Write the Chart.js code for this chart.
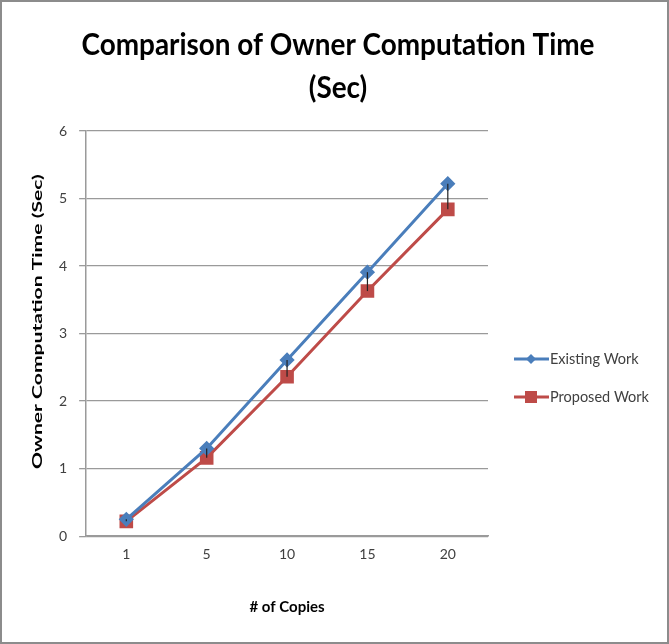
<!DOCTYPE html>
<html><head><meta charset="utf-8">
<script src="https://cdn.jsdelivr.net/npm/chart.js@4.4.0/dist/chart.umd.min.js"></script>
<style>
html,body{margin:0;padding:0;background:#fff}
#wrap{width:669px;height:644px;box-sizing:border-box;border:2px solid #8c8c8c;position:relative;background:#fff}
</style></head><body>
<div id="wrap"><canvas id="c"></canvas></div>
<script>
const categories = ['1', '5', '10', '15', '20'];
const existingWork = [0.25, 1.30, 2.61, 3.91, 5.22];
const proposedWork = [0.22, 1.16, 2.36, 3.63, 4.84];
const seriesNames = ['Existing Work', 'Proposed Work'];
const titleLines = ['Comparison of Owner Computation Time', '(Sec)'];
const yTitle = 'Owner Computation Time (Sec)';
const xTitle = '# of Copies';

const FONT = "Lato, 'Open Sans', sans-serif";

const hiLoLines = {
  id: 'hiLoLines',
  afterDatasetsDraw(chart) {
    const ctx = chart.ctx;
    const a = chart.getDatasetMeta(0).data, b = chart.getDatasetMeta(1).data;
    ctx.save();
    ctx.strokeStyle = '#222';
    ctx.lineWidth = 1.2;
    for (let i = 0; i < a.length; i++) {
      ctx.beginPath();
      ctx.moveTo(a[i].x, a[i].y);
      ctx.lineTo(b[i].x, b[i].y);
      ctx.stroke();
    }
    ctx.restore();
  }
};

// Title and y-axis title drawn stretched, like the (vertically stretched) reference image
const stretchedTexts = {
  id: 'stretchedTexts',
  afterDraw(chart) {
    const ctx = chart.ctx;
    ctx.save();
    ctx.fillStyle = '#000';
    ctx.textAlign = 'center';
    ctx.textBaseline = 'middle';
    ctx.font = 'bold 31px ' + FONT;
    const w = ctx.measureText(titleLines[0]).width;
    const sx = 513 / w;
    const ys = [43, 86];
    titleLines.forEach((t, i) => {
      ctx.save();
      ctx.translate(336, ys[i]);
      ctx.scale(sx, 1);
      ctx.fillText(t, 0, 0);
      ctx.restore();
    });
    // y-axis title
    ctx.font = 'bold 14px ' + FONT;
    const wy = ctx.measureText(yTitle).width;
    ctx.translate(35, (chart.chartArea.top + chart.chartArea.bottom) / 2 - 12);
    ctx.rotate(-Math.PI / 2);
    ctx.scale(295 / wy, 1);
    ctx.fillText(yTitle, 0, 0);
    ctx.restore();
  }
};

const customLegend = {
  id: 'customLegend',
  afterDraw(chart) {
    const ctx = chart.ctx;
    const area = chart.chartArea;
    const x0 = area.right + 26;
    const ys = [357, 395];
    ctx.save();
    chart.data.datasets.forEach((ds, i) => {
      const y = ys[i];
      ctx.strokeStyle = ds.borderColor;
      ctx.lineWidth = 3;
      ctx.beginPath(); ctx.moveTo(x0, y); ctx.lineTo(x0 + 35, y); ctx.stroke();
      ctx.fillStyle = ds.pointBackgroundColor;
      const cx = x0 + 17;
      if (ds.pointStyle === 'rectRot') {
        ctx.beginPath(); ctx.moveTo(cx, y - 5); ctx.lineTo(cx + 5, y); ctx.lineTo(cx, y + 5); ctx.lineTo(cx - 5, y); ctx.closePath(); ctx.fill();
      } else {
        ctx.fillRect(cx - 6, y - 6, 12, 12);
      }
      ctx.fillStyle = '#404040';
      ctx.font = '14.5px ' + FONT;
      ctx.textBaseline = 'middle';
      ctx.textAlign = 'left';
      ctx.fillText(ds.label, x0 + 36, y);
    });
    ctx.restore();
  }
};

new Chart(document.getElementById('c'), {
  type: 'line',
  data: {
    labels: categories,
    datasets: [
      { label: seriesNames[0], data: existingWork, borderColor: '#4a7ebb', backgroundColor: '#4a7ebb',
        pointBackgroundColor: '#4a7ebb', pointBorderColor: '#4a7ebb', pointStyle: 'rectRot', pointRadius: 5.5,
        borderWidth: 3, tension: 0 },
      { label: seriesNames[1], data: proposedWork, borderColor: '#be4b48', backgroundColor: '#be4b48',
        pointBackgroundColor: '#be4b48', pointBorderColor: '#be4b48', pointStyle: 'rect', pointRadius: 7.5,
        borderWidth: 3, tension: 0 }
    ]
  },
  options: {
    responsive: true,
    maintainAspectRatio: false,
    animation: false,
    layout: { padding: { left: 45, right: 179, top: 129, bottom: 22 } },
    plugins: {
      legend: { display: false },
      tooltip: { enabled: false },
      title: { display: false }
    },
    scales: {
      x: {
        offset: true,
        grid: { display: false, drawTicks: false },
        border: { display: true, color: '#9a9a9a', width: 1.5 },
        ticks: { color: '#404040', font: { family: FONT, size: 14 }, padding: 10 },
        title: { display: true, text: xTitle, color: '#000', font: { family: FONT, size: 15, weight: 'bold' }, padding: { top: 25 } }
      },
      y: {
        min: 0, max: 6,
        ticks: { stepSize: 1, color: '#404040', font: { family: FONT, size: 14 }, padding: 12 },
        grid: { color: '#9a9a9a', lineWidth: 1.3, tickLength: 7 },
        border: { display: true, color: '#9a9a9a', width: 1.5 },
        title: { display: false, text: yTitle }
      }
    }
  },
  plugins: [hiLoLines, stretchedTexts, customLegend]
});
</script>
</body></html>
